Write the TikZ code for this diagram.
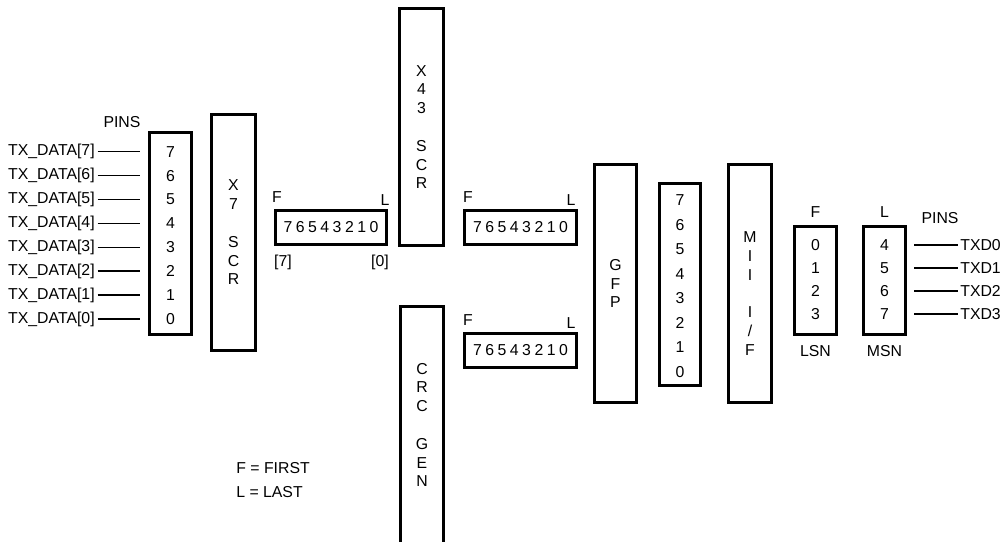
\documentclass[tikz,border=0pt]{standalone}
\usepackage{fontspec}
\setmainfont{Liberation Sans}
\usetikzlibrary{positioning}
\newcommand{\regbits}{7\hspace{2pt}6\hspace{2pt}5\hspace{2pt}4\hspace{2pt}3\hspace{2pt}2\hspace{2pt}1\hspace{2pt}0}

\begin{document}
\begin{tikzpicture}[
    x=0.02cm, y=-0.02cm,
    every node/.style={font=\fontsize{9}{10.7}\selectfont, inner sep=0pt},
    blk/.style={rectangle, draw, line width=1.9pt, minimum width=0.85cm, align=center},
    reg/.style={rectangle, draw, line width=1.9pt, minimum width=2.22cm, minimum height=0.67cm},
    wire/.style={line width=0.9pt, shorten <=0.05cm}
]
\useasboundingbox (0,0) rectangle (1000,541);

% input pins
\node (pinsin) at (122,122) {PINS};
\node[blk, minimum width=0.83cm, minimum height=4.03cm] (pins) at (170.5,233.5) {};
\foreach \i in {0,...,7} {
  \pgfmathsetmacro\y{319-23.9*\i}
  \node[anchor=east] (tx\i) at (95,\y) {TX\_DATA[\i]};
  \coordinate (tw\i) at (140,\y);
  \draw[wire] (tx\i.east) -- (tw\i);
  \node (pb\i) at (pins.center |- tw\i) {\i};
}

% scramblers
\node[blk, minimum width=0.87cm, minimum height=4.71cm] (x7) at (233.5,232.5) {X\\7\\~\\S\\C\\R};
\node[blk, minimum width=0.87cm, minimum height=4.73cm] (x43) at (421.5,127) {X\\4\\3\\~\\S\\C\\R};
\node[blk, minimum width=0.85cm, minimum height=4.73cm] (crc) at (422,425) {C\\R\\C\\~\\G\\E\\N};

% byte registers
\node[reg, minimum width=2.21cm] (reg1) at (331,227.5) {\regbits};
\node[reg, minimum width=2.23cm] (reg2) at (520.5,227.5) {\regbits};
\node[reg, minimum width=2.23cm] (reg3) at (520.5,350.5) {\regbits};
\node (f1) at (277,197) {F};
\node (l1) at (385,200) {L};
\node (b7) at (283,262) {[7]};
\node (b0) at (380,262) {[0]};
\node (f2) at (468,197) {F};
\node (l2) at (571,200) {L};
\node (f3) at (468,320) {F};
\node (l3) at (571,323) {L};

% framing and MII
\node[blk, minimum width=0.83cm, minimum height=4.75cm] (gfp) at (615.5,283.5) {G\\F\\P};
\node[blk, minimum width=0.81cm, minimum height=4.03cm] (col) at (680,284.5) {};
\foreach \i in {0,...,7}
  \node (cb\i) at (680,{372-24.5*\i}) {\i};
\node[blk, minimum width=0.85cm, minimum height=4.75cm] (mii) at (750,283.5) {};
\node[align=center] (miitxt) at (750,293.5) {M\\I\\I\\~\\I\\/\\F};

% nibbles and output pins
\node[blk, minimum width=0.83cm, minimum height=2.15cm] (lsn) at (815.5,280.5) {};
\node[blk, minimum width=0.83cm, minimum height=2.15cm] (msn) at (884.5,280.5) {};
\node (fn) at (815.5,212) {F};
\node (ln) at (884.5,212) {L};
\node (lsnlbl) at (815.5,351) {LSN};
\node (msnlbl) at (884.5,351) {MSN};
\node (pinsout) at (940,218) {PINS};
\foreach \i in {0,...,3} {
  \pgfmathsetmacro\y{245+23*\i}
  \pgfmathtruncatemacro\j{\i+4}
  \node (ln\i) at (815.5,\y) {\i};
  \node (mn\i) at (884.5,\y) {\j};
  \coordinate (ow\i) at (914,\y);
  \node[anchor=west] (txd\i) at (960,\y) {TXD\i};
  \draw[wire, shorten <=0pt, shorten >=0.05cm] (ow\i) -- (txd\i.west);
}

% legend
\node[anchor=west] (key1) at (236,468) {F = FIRST};
\node[anchor=west] (key2) at (236,492) {L = LAST};

\end{tikzpicture}
\end{document}
